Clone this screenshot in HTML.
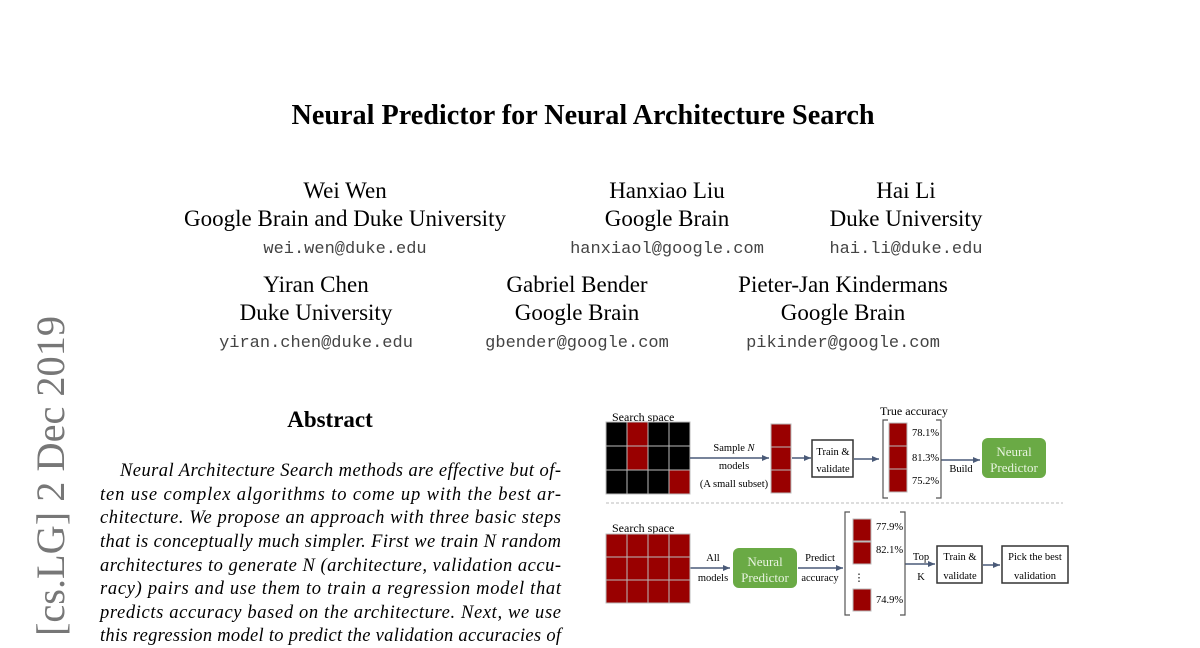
<!DOCTYPE html>
<html><head><meta charset="utf-8"><style>
html,body{margin:0;padding:0;background:#fff;width:1200px;height:648px;overflow:hidden}
svg{display:block}
.t{font-family:"Liberation Serif",serif;fill:#000}
.m{font-family:"Liberation Mono",monospace;fill:#444}
</style></head><body>
<svg width="1200" height="648" viewBox="0 0 1200 648" xmlns="http://www.w3.org/2000/svg">
<defs><marker id="a" markerWidth="8" markerHeight="8" refX="7" refY="4" orient="auto" markerUnits="userSpaceOnUse"><path d="M0,1 L7,4 L0,7 z" fill="#4a5a78"/></marker></defs>
<text class="t" x="583" y="124" font-size="28" font-weight="bold" text-anchor="middle" textLength="583" lengthAdjust="spacingAndGlyphs">Neural Predictor for Neural Architecture Search</text>
<g class="t" font-size="23" text-anchor="middle">
<text x="345" y="198">Wei Wen</text><text x="345" y="226">Google Brain and Duke University</text>
<text x="667" y="198">Hanxiao Liu</text><text x="667" y="226">Google Brain</text>
<text x="906" y="198">Hai Li</text><text x="906" y="226">Duke University</text>
<text x="316" y="292">Yiran Chen</text><text x="316" y="320">Duke University</text>
<text x="577" y="292">Gabriel Bender</text><text x="577" y="320">Google Brain</text>
<text x="843" y="292">Pieter-Jan Kindermans</text><text x="843" y="320">Google Brain</text>
</g>
<g class="m" font-size="17" text-anchor="middle">
<text x="345" y="253">wei.wen@duke.edu</text>
<text x="667" y="253">hanxiaol@google.com</text>
<text x="906" y="253">hai.li@duke.edu</text>
<text x="316" y="347">yiran.chen@duke.edu</text>
<text x="577" y="347">gbender@google.com</text>
<text x="843" y="347">pikinder@google.com</text>
</g>
<text transform="translate(64,636) rotate(-90)" font-family="Liberation Serif,serif" font-size="40" fill="#777" textLength="320" lengthAdjust="spacingAndGlyphs">[cs.LG]  2 Dec 2019</text>
<text class="t" x="330" y="427" font-size="23" font-weight="bold" text-anchor="middle">Abstract</text>
<g class="t" font-size="18.5" font-style="italic">
<text x="120" y="476" textLength="441" lengthAdjust="spacing">Neural Architecture Search methods are effective but of-</text>
<text x="100" y="500" textLength="461" lengthAdjust="spacing">ten use complex algorithms to come up with the best ar-</text>
<text x="100" y="523" textLength="461" lengthAdjust="spacing">chitecture. We propose an approach with three basic steps</text>
<text x="100" y="547" textLength="461" lengthAdjust="spacing">that is conceptually much simpler. First we train N random</text>
<text x="100" y="571" textLength="461" lengthAdjust="spacing">architectures to generate N (architecture, validation accu-</text>
<text x="100" y="594" textLength="461" lengthAdjust="spacing">racy) pairs and use them to train a regression model that</text>
<text x="100" y="618" textLength="461" lengthAdjust="spacing">predicts accuracy based on the architecture. Next, we use</text>
<text x="100" y="641" textLength="461" lengthAdjust="spacing">this regression model to predict the validation accuracies of</text>
</g>
<g class="t" font-size="12">
<text x="612" y="421">Search space</text>
<text x="880" y="415">True accuracy</text>
<text x="612" y="532">Search space</text>
</g>
<g stroke="#bbb" stroke-width="1">
<rect x="606" y="422" width="21" height="24" fill="#000"/><rect x="627" y="422" width="21" height="24" fill="#900"/><rect x="648" y="422" width="21" height="24" fill="#000"/><rect x="669" y="422" width="21" height="24" fill="#000"/>
<rect x="606" y="446" width="21" height="24" fill="#000"/><rect x="627" y="446" width="21" height="24" fill="#900"/><rect x="648" y="446" width="21" height="24" fill="#000"/><rect x="669" y="446" width="21" height="24" fill="#000"/>
<rect x="606" y="470" width="21" height="24" fill="#000"/><rect x="627" y="470" width="21" height="24" fill="#000"/><rect x="648" y="470" width="21" height="24" fill="#000"/><rect x="669" y="470" width="21" height="24" fill="#900"/>
<rect x="771" y="424" width="20" height="23" fill="#900"/><rect x="771" y="447" width="20" height="23" fill="#900"/><rect x="771" y="470" width="20" height="23" fill="#900"/>
<rect x="889" y="423" width="18" height="23" fill="#900"/><rect x="889" y="446" width="18" height="23" fill="#900"/><rect x="889" y="469" width="18" height="23" fill="#900"/>
</g>
<g stroke="#4a5a78" stroke-width="1.5" marker-end="url(#a)">
<line x1="690" y1="458" x2="769" y2="458"/><line x1="792" y1="458" x2="811" y2="458"/><line x1="854" y1="459" x2="879" y2="459"/><line x1="941" y1="460" x2="980" y2="460"/>
<line x1="690" y1="568" x2="730" y2="568"/><line x1="798" y1="568" x2="843" y2="568"/><line x1="905" y1="564" x2="935" y2="564"/><line x1="983" y1="565" x2="1000" y2="565"/>
</g>
<rect x="812" y="440" width="41" height="37" fill="#fff" stroke="#333" stroke-width="1.5"/>
<path d="M888,420 H883 V498 H888 M936,420 H941 V498 H936" fill="none" stroke="#555" stroke-width="1.2"/>
<rect x="982" y="438" width="64" height="40" rx="6" fill="#6aaa45"/>
<rect x="733" y="548" width="64" height="40" rx="6" fill="#6aaa45"/>
<g class="t" font-size="10.5">
<text x="734" y="451" text-anchor="middle">Sample <tspan font-style="italic">N</tspan></text>
<text x="734" y="469" text-anchor="middle">models</text>
<text x="734" y="487" text-anchor="middle">(A small subset)</text>
<text x="833" y="455" text-anchor="middle">Train &amp;</text>
<text x="833" y="472" text-anchor="middle">validate</text>
<text x="912" y="436">78.1%</text><text x="912" y="461">81.3%</text><text x="912" y="484">75.2%</text>
<text x="961" y="472" text-anchor="middle">Build</text>
</g>
<g font-family="Liberation Serif,serif" font-size="13" fill="#e8f4e0" text-anchor="middle">
<text x="1014" y="456">Neural</text><text x="1014" y="472">Predictor</text>
<text x="765" y="566">Neural</text><text x="765" y="582">Predictor</text>
</g>
<line x1="606" y1="503" x2="1063" y2="503" stroke="#bbb" stroke-dasharray="3,2"/>
<g stroke="#bbb" stroke-width="1" fill="#900">
<rect x="606" y="534" width="21" height="23"/><rect x="627" y="534" width="21" height="23"/><rect x="648" y="534" width="21" height="23"/><rect x="669" y="534" width="21" height="23"/>
<rect x="606" y="557" width="21" height="23"/><rect x="627" y="557" width="21" height="23"/><rect x="648" y="557" width="21" height="23"/><rect x="669" y="557" width="21" height="23"/>
<rect x="606" y="580" width="21" height="23"/><rect x="627" y="580" width="21" height="23"/><rect x="648" y="580" width="21" height="23"/><rect x="669" y="580" width="21" height="23"/>
<rect x="853" y="519" width="18" height="22"/><rect x="853" y="542" width="18" height="22"/><rect x="853" y="589" width="18" height="22"/>
</g>
<path d="M850,512 H845 V615 H850 M900,512 H905 V615 H900" fill="none" stroke="#555" stroke-width="1.2"/>
<rect x="937" y="546" width="45" height="37" fill="#fff" stroke="#333" stroke-width="1.5"/>
<rect x="1002" y="546" width="66" height="37" fill="#fff" stroke="#333" stroke-width="1.5"/>
<g class="t" font-size="10.5">
<text x="713" y="561" text-anchor="middle">All</text><text x="713" y="581" text-anchor="middle">models</text>
<text x="820" y="561" text-anchor="middle">Predict</text><text x="820" y="581" text-anchor="middle">accuracy</text>
<text x="876" y="530">77.9%</text><text x="876" y="553">82.1%</text><text x="876" y="603">74.9%</text>
<text x="859" y="581" text-anchor="middle">⋮</text>
<text x="921" y="560" text-anchor="middle">Top</text><text x="921" y="580" text-anchor="middle">K</text>
<text x="960" y="560" text-anchor="middle">Train &amp;</text><text x="960" y="579" text-anchor="middle">validate</text>
<text x="1035" y="560" text-anchor="middle">Pick the best</text><text x="1035" y="579" text-anchor="middle">validation</text>
</g>
</svg>
</body></html>
